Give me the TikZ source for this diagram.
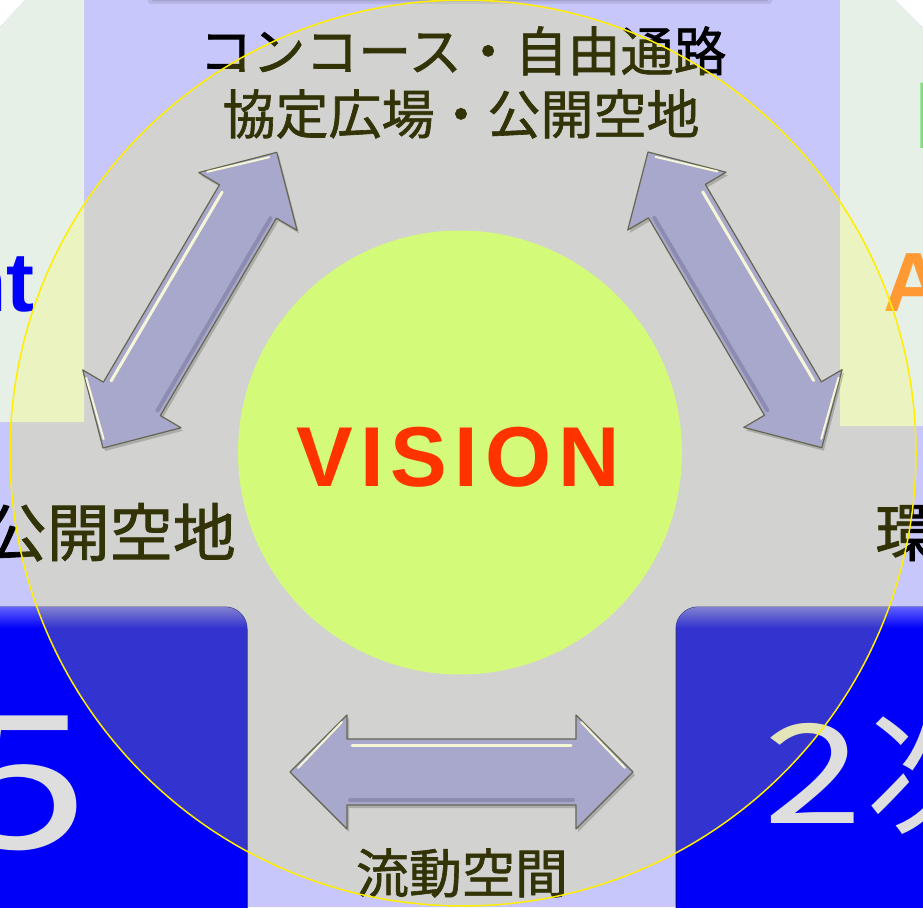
\documentclass[tikz,border=0pt]{standalone}
\usepackage{fontspec}
\usepackage{graphicx}
\newfontfamily\cjk{Noto Sans CJK JP}
\newfontfamily\cjkm{Noto Sans CJK JP}[FakeBold=1.2]
\newfontfamily\latin{Liberation Sans}
\definecolor{lav}{RGB}{199,199,251}
\definecolor{pale}{RGB}{230,240,230}
\definecolor{ovl}{RGB}{255,255,40}
\definecolor{ring}{RGB}{255,238,0}
\definecolor{vis}{RGB}{212,250,122}
\definecolor{visred}{RGB}{255,51,0}
\definecolor{boxblue}{RGB}{0,0,250}
\definecolor{digit}{RGB}{222,222,222}
\definecolor{cArrFill}{RGB}{168,168,204}
\definecolor{cArrLine}{RGB}{102,102,80}
\definecolor{cArrHi}{RGB}{245,245,215}
\definecolor{cArrLo}{RGB}{140,140,176}
\definecolor{orangeA}{RGB}{255,153,51}
\definecolor{blueT}{RGB}{0,0,255}
\definecolor{greenT}{RGB}{128,224,128}
\newcommand\fatarrow[3]{%
  \begin{scope}[shift={(#1)}, shift={(2,3)}, rotate=#2]
    \fill[arrshadow] (0,0) -- (57,57) -- (57,33) -- (#3-57,33) -- (#3-57,57) -- (#3,0) -- (#3-57,-57) -- (#3-57,-33) -- (57,-33) -- (57,-57) -- cycle;
  \end{scope}
  \begin{scope}[shift={(#1)}, rotate=#2]
    \filldraw[arrbody] (0,0) -- (57,57) -- (57,33) -- (#3-57,33) -- (#3-57,57) -- (#3,0) -- (#3-57,-57) -- (#3-57,-33) -- (57,-33) -- (57,-57) -- cycle;
    \draw[arrlo] (60,28) -- (#3-60,28);
    \draw[arrhi] (62,-27) -- (#3-62,-27);
    \draw[arrhi, line width=2pt] (8,-4) -- (52,-50);
    \draw[arrhi, line width=2pt] (#3-8,-4) -- (#3-52,-50);
  \end{scope}}
\begin{document}
\begin{tikzpicture}[x=1pt,y=-1pt,
  lbl/.style={font=\cjkm\fontsize{53}{60}\selectfont, text=black, inner sep=0pt},
  lblbig/.style={font=\cjkm\fontsize{63}{70}\selectfont, text=black, inner sep=0pt},
  latinlbl/.style={font=\latin\bfseries\fontsize{84}{90}\selectfont, inner sep=0pt},
  boxshape/.style={fill=boxblue, draw=blue!55!black, line width=1pt, rounded corners=22pt},
  arrbody/.style={fill=cArrFill, draw=cArrLine, line width=1.2pt, line join=round},
  arrshadow/.style={fill=black, fill opacity=0.18},
  arrhi/.style={draw=cArrHi, line width=3pt, line cap=round},
  arrlo/.style={draw=cArrLo, line width=4pt, line cap=round}]
\useasboundingbox (0,0) rectangle (923,907);
\clip (0,0) rectangle (923,907);
% backgrounds
\fill[white] (0,0) rectangle (923,907);
\fill[lav] (25,0) -- (895,0) -- (923,28) -- (923,907) -- (0,907) -- (0,27) -- cycle;
\fill[pale] (0,27) -- (25,0) -- (84,0) -- (84,422) -- (0,422) -- cycle;
\fill[pale] (840,0) -- (895,0) -- (923,28) -- (923,426) -- (840,426) -- cycle;
% shadow of the box above
\fill[black, opacity=0.08, rounded corners=3pt] (148,-10) rectangle (772,4);
\fill[black, opacity=0.10, rounded corners=2pt] (152,-10) rectangle (768,1.5);
% blue boxes
\draw[boxshape] (-40,607) rectangle (247,980);
\draw[boxshape] (676,607) rectangle (980,980);
\begin{scope}
  \clip[rounded corners=22pt] (-40,607) rectangle (247,980);
  \shade[top color=boxblue!62!white, bottom color=boxblue] (-40,607) rectangle (247,628);
\end{scope}
\begin{scope}
  \clip[rounded corners=22pt] (676,607) rectangle (980,980);
  \shade[top color=boxblue!62!white, bottom color=boxblue] (676,607) rectangle (980,628);
\end{scope}
% texts beneath the overlay
\node[lbl, anchor=base] (concourse) at (463,71) {コンコース・自由通路};
\node[lbl, anchor=base] (plaza) at (461,134) {協定広場・公開空地};
\node[lblbig, anchor=base east] (leftlbl) at (236,556) {公開空地};
\node[lblbig, anchor=base west] (rightlbl) at (875,556) {環};
\node[lbl, anchor=base] (flow) at (462,893) {流動空間};
\node[font=\cjk\fontsize{186}{190}\selectfont, text=digit, inner sep=0pt, anchor=base east] (five) at (90,848) {\scalebox{1.3}[1]{5}};
\node[font=\cjk\fontsize{138}{140}\selectfont, text=digit, inner sep=0pt, anchor=base west] (two) at (763,823) {\scalebox{1.3}[1]{2}\kern4pt次};
\node[latinlbl, text=blueT, anchor=base east] (nt) at (35,311) {nt};
\node[latinlbl, text=orangeA, anchor=base west] (aword) at (883,311) {A};
\node[font=\latin\bfseries\fontsize{95}{100}\selectfont, text=greenT, inner sep=0pt, anchor=base west] (eword) at (914,148) {E};
% translucent zone circle
\node[circle, minimum size=906pt, inner sep=0pt, fill=ovl, fill opacity=0.2, draw=ring, draw opacity=1, line width=1.5pt] (zone) at (463,453) {};
% vision
\node[circle, minimum size=444pt, inner sep=0pt, fill=vis] (vision) at (460,452.5) {};
\node[font=\latin\bfseries\fontsize{85}{90}\selectfont, text=visred, inner sep=0pt, anchor=base] (visiontxt) at (458,486) {V\kern7pt I\kern7pt S\kern7pt I\kern7pt O\kern7pt N};
% arrows
\coordinate (ulA) at (103,448);
\coordinate (urA) at (648,152);
\coordinate (btA) at (290,772);
\fatarrow{ulA}{59.55}{343}
\fatarrow{urA}{-59.55}{343}
\fatarrow{btA}{0}{343}
\end{tikzpicture}
\end{document}
